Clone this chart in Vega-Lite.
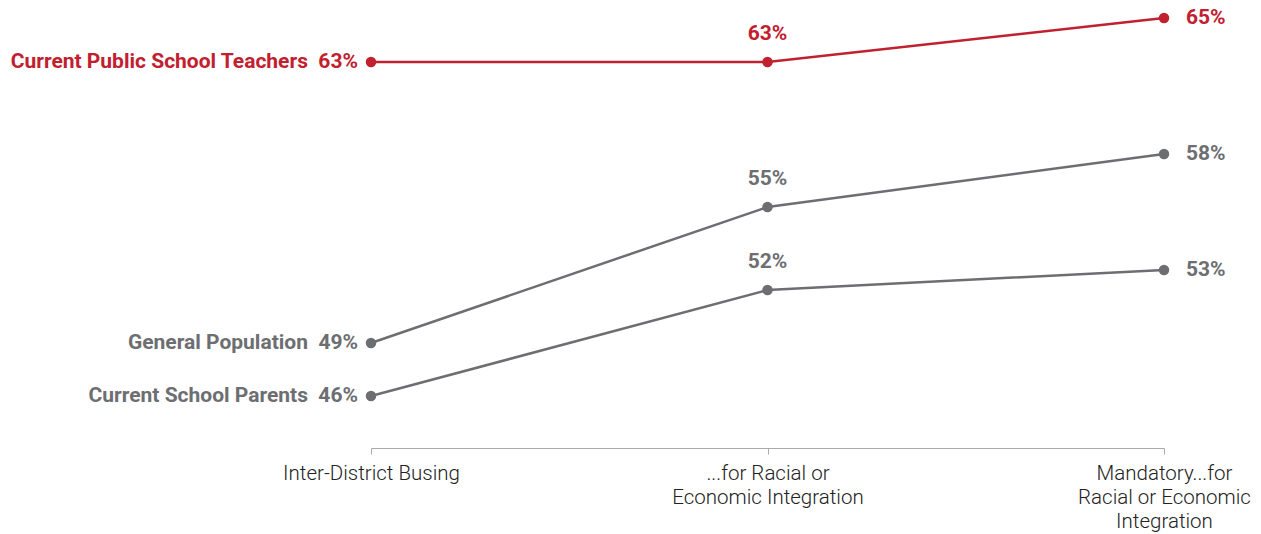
{
  "$schema": "https://vega.github.io/schema/vega-lite/v6.json",
  "autosize": "none",
  "width": 793,
  "height": 448,
  "padding": {"left": 371, "top": 0, "right": 97, "bottom": 86},
  "background": "white",
  "config": {"view": {"stroke": null}, "font": "Roboto, sans-serif"},
  "data": {"values": [
    {"series": "Current Public School Teachers", "category": "Inter-District Busing", "value": 62.8, "tag": "Current Public School Teachers\u00a0 63%"},
    {"series": "Current Public School Teachers", "category": "...for Racial or|Economic Integration", "value": 62.8, "tag": "63%"},
    {"series": "Current Public School Teachers", "category": "Mandatory...for|Racial or Economic|Integration", "value": 65.0, "tag": "65%"},
    {"series": "General Population", "category": "Inter-District Busing", "value": 48.75, "tag": "General Population\u00a0 49%"},
    {"series": "General Population", "category": "...for Racial or|Economic Integration", "value": 55.55, "tag": "55%"},
    {"series": "General Population", "category": "Mandatory...for|Racial or Economic|Integration", "value": 58.2, "tag": "58%"},
    {"series": "Current School Parents", "category": "Inter-District Busing", "value": 46.1, "tag": "Current School Parents\u00a0 46%"},
    {"series": "Current School Parents", "category": "...for Racial or|Economic Integration", "value": 51.4, "tag": "52%"},
    {"series": "Current School Parents", "category": "Mandatory...for|Racial or Economic|Integration", "value": 52.4, "tag": "53%"}
  ]},
  "encoding": {
    "x": {"field": "category", "type": "ordinal",
      "sort": ["Inter-District Busing", "...for Racial or|Economic Integration", "Mandatory...for|Racial or Economic|Integration"],
      "scale": {"type": "point", "padding": 0},
      "axis": {"title": null, "labelAngle": 0, "labelExpr": "split(datum.label, '|')", "labelFontSize": 20.5, "labelColor": "#222222",
        "labelLineHeight": 24, "labelPadding": 9, "domainColor": "#aaaaaa", "tickColor": "#aaaaaa", "tickSize": 6, "labelBaseline": "top",
        "labelFont": "Roboto, sans-serif", "labelFontWeight": 300, "labelLimit": 400, "grid": false}},
    "y": {"field": "value", "type": "quantitative", "scale": {"domain": [43.5, 65.9], "zero": false, "nice": false}, "axis": null},
    "color": {"field": "series", "type": "nominal", "legend": null,
      "scale": {"domain": ["Current Public School Teachers", "General Population", "Current School Parents"], "range": ["#c1202f", "#6d6e71", "#6d6e71"]}}
  },
  "layer": [
    {"mark": {"type": "line", "strokeWidth": 2.5}, "encoding": {"detail": {"field": "series"}}},
    {"mark": {"type": "point", "filled": true, "size": 110, "opacity": 1}},
    {"transform": [{"filter": "datum.category == 'Inter-District Busing'"}],
     "mark": {"type": "text", "align": "right", "baseline": "middle", "dx": -13, "fontSize": 21, "fontWeight": "bold"},
     "encoding": {"text": {"field": "tag"}}},
    {"transform": [{"filter": "datum.category == '...for Racial or|Economic Integration'"}],
     "mark": {"type": "text", "align": "center", "baseline": "middle", "dy": -28, "fontSize": 21, "fontWeight": "bold"},
     "encoding": {"text": {"field": "tag"}}},
    {"transform": [{"filter": "datum.category == 'Mandatory...for|Racial or Economic|Integration'"}],
     "mark": {"type": "text", "align": "left", "baseline": "middle", "dx": 22, "fontSize": 21, "fontWeight": "bold"},
     "encoding": {"text": {"field": "tag"}}}
  ]
}
